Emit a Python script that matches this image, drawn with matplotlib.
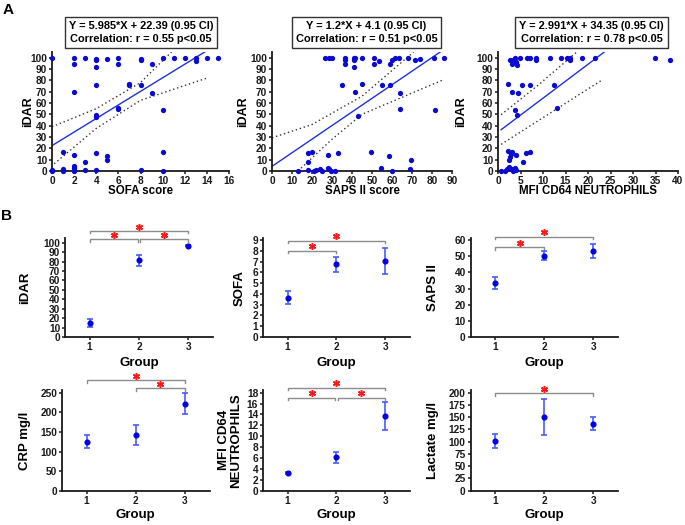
import matplotlib

matplotlib.use("Agg")
import matplotlib.pyplot as plt  # noqa: E402
from matplotlib.transforms import offset_copy  # noqa: E402
import numpy as np  # noqa: E402

plt.rcParams["font.family"] = ["Liberation Sans", "DejaVu Sans"]
plt.rcParams["font.weight"] = "bold"
plt.rcParams["axes.labelweight"] = "bold"

W, H = 685, 525

# ---------------------------------------------------------------- panel A data
sofa_x = [0, 2, 2, 3, 4, 4, 4, 5, 6, 6, 8, 8, 9, 10, 11, 12, 13, 13, 14, 15,
          2, 4, 7, 7, 8, 9,
          6, 6, 4, 4, 10,
          1, 2, 4, 5, 5, 3, 10,
          0, 0, 1, 1, 2, 2, 2, 2, 3, 4, 8, 10]
sofa_idar = [100, 100, 94, 100, 99, 98, 92, 98.5, 100, 94, 99, 98, 94.6, 100, 100, 100, 100, 97, 99.4, 100,
             70, 76, 77, 75.5, 76, 68.7,
             56, 55, 49, 48, 53.4,
             17, 14, 16, 13, 10, 7.8, 16.7,
             1, 0, 1.5, 0, 4, 2.4, 1, 0, 1, 1, 1, 0]

saps_x = [26.7, 28.3, 30, 36.7, 36.7, 36.7, 40.8, 40.8, 40.8, 41.7, 45, 50.8, 50.8, 53.7,
          58.8, 60, 61.7, 63.3, 68, 71.7, 74, 80.8, 85.8,
          35, 45, 41.7, 55, 58.8, 63.8, 63.8, 43, 81.7,
          17.8, 20, 17.8, 27.8, 32.8, 49.7, 58.3, 69.5,
          13, 17.8, 20.8, 22, 24, 25, 27.8, 28.3, 29.7, 31.7, 54.7, 60, 68.8]
saps_idar = [100, 100, 100, 100, 98, 94, 100, 98, 92, 100, 100, 100, 94.7, 96.8,
             94.7, 98, 100, 100, 100, 97.6, 99, 100, 100,
             75.7, 77, 69.8, 75.7, 75.7, 68.9, 55, 48.7, 53.7,
             16, 17, 8, 14.4, 16, 17, 13, 9.7,
             0, 1, 0, 1, 1.5, 0, 3, 1.5, 0, 0, 3, 0, 1.5]

mfi_x = [2.6, 3.0, 3.3, 3.7, 4.1, 4.3, 4.8, 6.5, 7.1, 8.4, 8.5, 11.5, 14, 15.4, 16, 16.1,
         18.6, 21.6, 34.9, 38.3,
         2.2, 3.1, 4.5, 5.4, 7.1, 12.4, 3.7, 4.3, 13,
         2.2, 3.0, 2.8, 2.6, 2.4, 4.1, 5.6, 6.2, 7.1,
         0.7, 1.5, 2.0, 2.4, 3.0, 3.3, 3.7, 4.0]
mfi_idar = [97.6, 94.7, 98, 100, 96, 93.2, 100, 100, 100, 98, 99.5, 100, 100, 100, 97.6, 100,
            100, 100, 100, 98,
            77, 69.7, 68.8, 75.6, 76.2, 75.6, 53.5, 49, 55.6,
            17.6, 16.8, 14.7, 12.4, 10, 14.4, 8, 16.2, 16.8,
            0, 0, 1.5, 3.5, 1.5, 0, 2.6, 0.5]

# regressions: slope, intercept, x range of the drawn line
fit_slope = [5.985, 1.2, 2.991]
fit_icpt = [22.39, 4.1, 34.35]
fit_range = [(0, 16), (0, 90), (0.7, 40)]
fit_text = ["Y = 5.985*X + 22.39 (0.95 CI)\nCorrelation: r = 0.55 p<0.05",
            "Y = 1.2*X + 4.1 (0.95 CI)\nCorrelation: r = 0.51 p<0.05",
            "Y = 2.991*X + 34.35 (0.95 CI)\nCorrelation: r = 0.78 p<0.05"]

# 95% confidence bands
ci_up_x = [[0, 4, 8, 10.9], [0, 20, 45, 70.8], [0.7, 9, 17.5]]
ci_up_y = [[39, 55, 78, 106], [29.3, 41, 66, 105], [49.7, 76, 105]]
ci_lo_x = [[0.2, 4, 8, 14], [13, 30, 45, 85], [0.7, 23]]
ci_lo_y = [[6.4, 37.6, 62.3, 82], [0, 28, 50, 80], [23.5, 80]]

# ---------------------------------------------------------------- panel B data
groups = [1, 2, 3]
idar_mean = [14.8, 81.5, 97.0]
idar_lo = [10.3, 74.8, 96.2]
idar_hi = [19.1, 87.2, 97.8]
sofa_mean = [3.65, 6.75, 7.05]
sofa_lo = [3.05, 6.05, 5.85]
sofa_hi = [4.3, 7.42, 8.28]
saps_mean = [33.6, 50.3, 53.2]
saps_lo = [30.0, 47.6, 48.9]
saps_hi = [36.9, 53.0, 57.8]
crp_mean = [125, 142, 222]
crp_lo = [109.7, 115.6, 196.4]
crp_hi = [142, 168.4, 249]
mfi_mean = [3.2, 6.1, 13.7]
mfi_lo = [3.05, 5.05, 11.1]
mfi_hi = [3.35, 7.15, 16.3]
lact_mean = [100.5, 149.7, 136.7]
lact_lo = [86.4, 113, 123.8]
lact_hi = [115, 186.4, 149.7]

# significant pairs (p<0.05)
idar_sig = [(1, 3), (1, 2), (2, 3)]
sofa_sig = [(1, 3), (1, 2)]
saps_sig = [(1, 3), (1, 2)]
crp_sig = [(1, 3), (2, 3)]
mfi_sig = [(1, 3), (1, 2), (2, 3)]
lact_sig = [(1, 3)]

##############################################################################

fig = plt.figure(figsize=(W / 100, H / 100), dpi=100)


def px_axes(x0, y0, x1, y1):
    """Axes from a pixel box (left, top, right, bottom)."""
    ax = fig.add_axes([x0 / W, 1 - y1 / H, (x1 - x0) / W, (y1 - y0) / H])
    ax._box = (x0, y0, x1, y1)
    for s in ("top", "right"):
        ax.spines[s].set_visible(False)
    for s in ("left", "bottom"):
        ax.spines[s].set_linewidth(1.3)
        ax.spines[s].set_color("#1a1a1a")
    ax.tick_params(direction="out", length=2.5, width=1.1, labelsize=7.3,
                   colors="#1a1a1a", pad=1.0)
    return ax


def place_labels(ax, xlab, ylab, xlab_y, ylab_x, size):
    x0, y0, x1, y1 = ax._box
    ax.set_xlabel(xlab, fontsize=size, va="center")
    ax.set_ylabel(ylab, fontsize=size, va="center", linespacing=1.0)
    ax.xaxis.set_label_coords(0.5, (y1 - xlab_y) / (y1 - y0))
    ax.yaxis.set_label_coords((ylab_x - x0) / (x1 - x0), 0.5)


# ---------------------------------------------------------------- panel A
a_boxes = [(52, 52, 229, 171), (272, 52, 452, 171), (498, 52, 678, 171)]
a_xlim = [16, 90, 40]
a_xstep = [2, 10, 5]
a_xlab = ["SOFA score", "SAPS II score", "MFI CD64 NEUTROPHILS"]
a_ylab_x = [28, 243, 461]
a_text_cx = [141, 366.5, 591.5]
a_xs = [sofa_x, saps_x, mfi_x]
a_ys = [sofa_idar, saps_idar, mfi_idar]

for i in range(3):
    ax = px_axes(*a_boxes[i])
    ax.set_xlim(0, a_xlim[i])
    ax.set_ylim(0, 105)
    ax.set_xticks(np.arange(0, a_xlim[i] + 1, a_xstep[i]))
    ax.set_yticks(np.arange(0, 101, 10))
    ax.plot(a_xs[i], a_ys[i], "o", color="#0a0ad2", ms=3.8, mew=0,
            clip_on=False, zorder=3)
    lx = np.array(fit_range[i])
    ax.plot(lx, fit_slope[i] * lx + fit_icpt[i], color="#1e32dc", lw=1.0)
    ax.plot(ci_up_x[i], ci_up_y[i], color="#333333", lw=1.0, ls=(0, (1, 2)))
    ax.plot(ci_lo_x[i], ci_lo_y[i], color="#333333", lw=1.0, ls=(0, (1, 2)))
    place_labels(ax, a_xlab[i], "iDAR", 191.5, a_ylab_x[i], 9)
    ax.xaxis.label.set_fontsize(8.3)
    fig.text(a_text_cx[i] / W, 1 - 32.5 / H, fit_text[i], ha="center",
             va="center", fontsize=7.9, fontweight="bold", linespacing=1.35,
             bbox=dict(boxstyle="square,pad=0.35", fc="white",
                       ec="#333333", lw=1.0))

fig.text(8 / W, 1 - 10 / H, "A", fontsize=11, fontweight="bold",
         ha="center", va="center")
fig.text(7 / W, 1 - 216 / H, "B", fontsize=11, fontweight="bold",
         ha="center", va="center")

# ---------------------------------------------------------------- panel B
b_panels = [
    # box, ylim top, yticks, label, ylabel x, means, lo, hi, sig, bracket levels
    ((65, 238.5, 213, 337), 104.5, np.arange(0, 101, 10), "iDAR", 25,
     idar_mean, idar_lo, idar_hi, idar_sig, [112.4, 103.5, 103.5]),
    ((263, 238.5, 410, 337), 9.15, np.arange(0, 10, 1), "SOFA", 240,
     sofa_mean, sofa_lo, sofa_hi, sofa_sig, [8.94, 8.01]),
    ((470.5, 238.5, 618, 337), 61, np.arange(0, 61, 10), "SAPS II", 433,
     saps_mean, saps_lo, saps_hi, saps_sig, [62, 55.5]),
    ((62, 390, 209.5, 490.7), 257, np.arange(0, 251, 50), "CRP mg/l", 25,
     crp_mean, crp_lo, crp_hi, crp_sig, [282, 261]),
    ((263, 390, 410, 490.7), 18.5, np.arange(0, 19, 2),
     "MFI CD64\nNEUTROPHILS", 230,
     mfi_mean, mfi_lo, mfi_hi, mfi_sig, [18.9, 17.1, 17.1]),
    ((470.5, 390, 618, 490.7), 205.5, np.arange(0, 201, 25), "Lactate mg/l", 433,
     lact_mean, lact_lo, lact_hi, lact_sig, [198.6]),
]

for k, (box, ytop, yticks, ylab, ylab_x, m, lo, hi, sig, levels) in enumerate(b_panels):
    ax = px_axes(*box)
    ax.set_xlim(0.5, 3.5)
    ax.set_ylim(0, ytop)
    ax.set_xticks(groups)
    ax.set_yticks(yticks)
    m = np.array(m)
    err = [m - np.array(lo), np.array(hi) - m]
    ax.errorbar(groups, m, yerr=err, fmt="o", color="#0000e6", ms=3.4,
                ecolor="#4a5aff", elinewidth=1.2, capsize=2.4, capthick=1.2,
                clip_on=False, zorder=3)
    xlab_y = 363 if k < 3 else 515
    place_labels(ax, "Group", ylab, xlab_y, ylab_x, 9.5)

    # significance brackets
    px_per_unit = (box[3] - box[1]) / ytop
    drop = 2.3 / px_per_unit
    star_tr = offset_copy(ax.transData, fig=fig, y=4.5, units="dots")
    for (g1, g2), lev in zip(sig, levels):
        shared = [p for p in sig if p != (g1, g2)]
        a = g1 + (0.025 if any(p[1] == g1 for p in shared) else 0)
        b = g2 - (0.025 if any(p[0] == g2 for p in shared) else 0)
        ax.plot([a, a, b, b], [lev - drop, lev, lev, lev - drop],
                color="#8c8c8c", lw=1.0, clip_on=False)
        ax.plot((g1 + g2) / 2, lev, marker=(6, 2, 0), ms=5, mew=1.1,
                color="#ff1a1a", transform=star_tr, clip_on=False)

fig.savefig("out.png", dpi=100)
